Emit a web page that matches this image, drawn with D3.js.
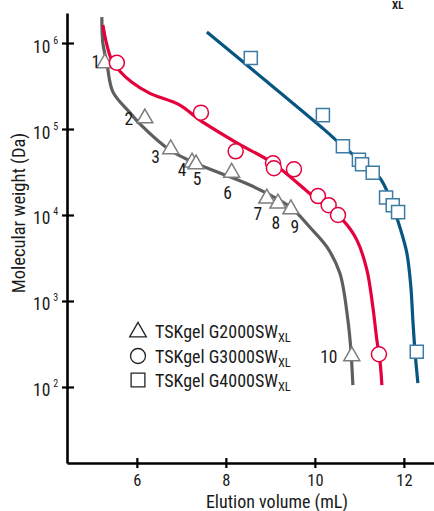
<!DOCTYPE html>
<html><head><meta charset="utf-8">
<script src="https://cdn.jsdelivr.net/npm/d3@7"></script>
<style>
html,body{margin:0;padding:0;background:#fff;}
svg text{font-family:"Liberation Sans Narrow","Roboto Condensed","DejaVu Sans Condensed","Arial Narrow",sans-serif;fill:#1a1a1a;}
</style></head>
<body><svg id="chart" width="434" height="511"></svg>
<script>
// ---- data ----
const xTicks = [6, 8, 10, 12];
const yTickExps = [2, 3, 4, 5, 6];
const seriesNames = ["TSKgel G2000SW", "TSKgel G3000SW", "TSKgel G4000SW"];
const seriesSub = "XL";
// measured points (elution volume mL, molecular weight Da)
const g2000Vol = [5.28, 6.18, 6.76, 7.24, 7.33, 8.13, 8.92, 9.17, 9.46, 10.83];
const g2000MW  = [600000, 137000, 60000, 42000, 40000, 32000, 16000, 14000, 12000, 235];
const g2000Lbl = ["1","2","3","4","5","6","7","8","9","10"];
const g3000Vol = [5.55, 7.44, 8.22, 9.06, 9.08, 9.53, 10.07, 10.31, 10.52, 11.44];
const g3000MW  = [590000, 155000, 55000, 40000, 35000, 34000, 16600, 13000, 10000, 240];
const g4000Vol = [8.56, 10.18, 10.63, 10.99, 11.06, 11.30, 11.60, 11.75, 11.87, 12.29];
const g4000MW  = [670000, 145000, 63000, 44000, 39000, 31000, 16000, 13000, 10800, 257];
// fitted calibration curves
const g2000CurveVol = [5.213, 5.236, 5.326, 5.461, 5.843, 6.067, 6.742, 7.258, 7.865, 8.539, 8.989, 9.483, 9.888, 10.270, 10.562, 10.742, 10.809, 10.854];
const g2000CurveMW  = [2.0e6, 1.0e6, 5.85e5, 2.7e5, 1.55e5, 1.15e5, 5.7e4, 4.13e4, 3.08e4, 2.23e4, 1.71e4, 1.2e4, 7.2e3, 4.25e3, 2.1e3, 600, 270, 105];
const g3000CurveVol = [5.236, 5.326, 5.438, 5.618, 5.888, 6.292, 6.966, 7.416, 8.247, 9.056, 9.955, 10.629, 10.944, 11.169, 11.303, 11.393, 11.461, 11.506];
const g3000CurveMW  = [1.62e6, 9.5e5, 6.3e5, 4.7e5, 3.5e5, 2.6e5, 1.9e5, 1.27e5, 6.9e4, 4.0e4, 1.66e4, 8.7e3, 5.1e3, 2.3e3, 850, 352, 206, 105];
const g4000CurveVol = [7.573, 8.876, 10.225, 10.629, 11.011, 11.461, 11.685, 11.910, 12.067, 12.157, 12.202, 12.247, 12.315];
const g4000CurveMW  = [1.34e6, 3.72e5, 9.7e4, 6.3e4, 4.37e4, 2.69e4, 1.58e4, 7.2e3, 3.6e3, 1.46e3, 600, 270, 111];

// ---- chart ----
const svg = d3.select("#chart");
const x = d3.scaleLinear().domain([4.43, 12.677]).range([67, 434]);
const y = d3.scaleLog().domain([Math.pow(10, 1.116), Math.pow(10, 6.349)]).range([463, 13]);

const colGray = "#5e5e5e", colRed = "#e3003b", colBlue = "#075682";
const mkGray = "#7d7d7d", mkRed = "#e3003b", mkBlue = "#3b7ba6";

const line = d3.line().x(d => x(d[0])).y(d => y(d[1])).curve(d3.curveCatmullRom.alpha(0.5));
const curves = [
  [g2000CurveVol, g2000CurveMW, colGray],
  [g3000CurveVol, g3000CurveMW, colRed],
  [g4000CurveVol, g4000CurveMW, colBlue]
];
curves.forEach(([v, m, c]) => {
  svg.append("path").datum(v.map((d, i) => [d, m[i]]))
    .attr("d", line).attr("fill", "none").attr("stroke", c).attr("stroke-width", 3.2)
    .attr("stroke-linecap", "butt");
});

// markers
const tri = d3.symbol().type(d3.symbolTriangle).size(110);
const sq = d3.symbol().type(d3.symbolSquare).size(170);
const g2 = g2000Vol.map((d, i) => [d, g2000MW[i]]);
const g3 = g3000Vol.map((d, i) => [d, g3000MW[i]]);
const g4 = g4000Vol.map((d, i) => [d, g4000MW[i]]);

svg.append("g").selectAll("path").data(g2).join("path")
  .attr("d", tri).attr("transform", d => `translate(${x(d[0])},${y(d[1]) + 1})`)
  .attr("fill", "#fff").attr("stroke", mkGray).attr("stroke-width", 1.5);
svg.append("g").selectAll("circle").data(g3).join("circle")
  .attr("cx", d => x(d[0])).attr("cy", d => y(d[1])).attr("r", 7.5)
  .attr("fill", "#fff").attr("stroke", mkRed).attr("stroke-width", 1.5);
svg.append("g").selectAll("path").data(g4).join("path")
  .attr("d", sq).attr("transform", d => `translate(${x(d[0])},${y(d[1])})`)
  .attr("fill", "#fff").attr("stroke", mkBlue).attr("stroke-width", 1.5);

// point labels (offsets)
const lblOff = [[-9, 6], [-16, 8], [-15, 15], [-10, 15], [1, 22], [-4, 27], [-9, 23], [-2, 27], [4, 25], [-23, 8]];
svg.append("g").selectAll("text").data(g2).join("text")
  .attr("x", (d, i) => x(d[0]) + lblOff[i][0])
  .attr("y", (d, i) => y(d[1]) + lblOff[i][1])
  .attr("text-anchor", "middle").attr("font-size", 17.5)
  .text((d, i) => g2000Lbl[i]);

// axes
const xAxis = svg.append("g").attr("transform", "translate(0,463)")
  .call(d3.axisBottom(x).tickValues(xTicks).tickFormat(d3.format("d")).tickSizeOuter(0));
xAxis.attr("font-family", null).attr("font-size", null);
xAxis.select(".domain").attr("stroke", "#000").attr("stroke-width", 2.6);
xAxis.selectAll(".tick line").attr("y1", -5).attr("y2", 5).attr("stroke", "#000").attr("stroke-width", 2.2);
xAxis.selectAll(".tick text").attr("y", 23).attr("dy", 0).attr("font-size", 16.5).attr("fill", "#1a1a1a");

const yAxis = svg.append("g").attr("transform", "translate(67,0)")
  .call(d3.axisLeft(y).tickValues(yTickExps.map(e => Math.pow(10, e))).tickFormat("").tickSizeOuter(0));
yAxis.attr("font-family", null).attr("font-size", null);
yAxis.select(".domain").attr("stroke", "#000").attr("stroke-width", 2.6);
yAxis.selectAll(".tick line").attr("x1", -5).attr("x2", 7).attr("stroke", "#000").attr("stroke-width", 2.2);
yAxis.selectAll(".tick text").remove();
yAxis.selectAll(".tick").each(function(d, i) {
  const t = d3.select(this).append("text").attr("x", -34).attr("y", 9)
    .attr("text-anchor", "start").attr("font-size", 17.5).attr("fill", "#1a1a1a");
  t.append("tspan").text("10");
  t.append("tspan").attr("dx", 3).attr("dy", -9).attr("font-size", 10).text(yTickExps[i]);
});

// axis titles
svg.append("text").attr("x", 277).attr("y", 508).attr("text-anchor", "middle")
  .attr("font-size", 18).text("Elution volume (mL)");
svg.append("text").attr("transform", "translate(25,213) rotate(-90)").attr("text-anchor", "middle")
  .attr("font-size", 18.5).text("Molecular weight (Da)");

// legend
const legY = [331, 356, 380];
const leg = svg.append("g");
leg.append("path").attr("d", d3.symbol().type(d3.symbolTriangle).size(120)).attr("transform", `translate(138,${legY[0] + 1})`)
  .attr("fill", "#fff").attr("stroke", "#222").attr("stroke-width", 1.3);
leg.append("circle").attr("cx", 138).attr("cy", legY[1]).attr("r", 7.5)
  .attr("fill", "#fff").attr("stroke", "#222").attr("stroke-width", 1.3);
leg.append("path").attr("d", d3.symbol().type(d3.symbolSquare).size(190)).attr("transform", `translate(138,${legY[2]})`)
  .attr("fill", "#fff").attr("stroke", "#222").attr("stroke-width", 1.3);
seriesNames.forEach((s, i) => {
  const t = leg.append("text").attr("x", 155).attr("y", legY[i] + 7).attr("font-size", 18);
  t.append("tspan").text(s);
  t.append("tspan").attr("dy", 4).attr("font-size", 12.5).text(seriesSub);
});

// clipped fragment at top right
svg.append("text").attr("x", 392).attr("y", 9).attr("font-size", 11).attr("font-weight", "bold").text("XL");
</script></body></html>
